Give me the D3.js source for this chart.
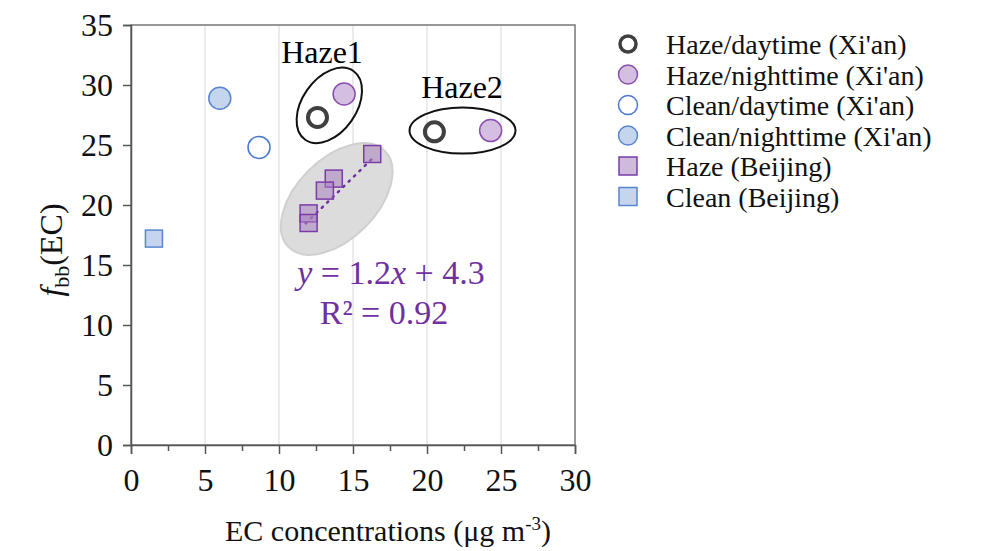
<!DOCTYPE html>
<html><head><meta charset="utf-8">
<script src="https://cdn.jsdelivr.net/npm/d3@7"></script>
<style>body{margin:0;background:#fff}text{font-family:"Liberation Serif","Times New Roman",serif}</style>
</head><body><svg width="999" height="551"></svg>
<script>
// data
const hazeDayXian = [[12.6, 27.3], [20.5, 26.1]];
const hazeNightXian = [[14.4, 29.25], [24.3, 26.2]];
const cleanDayXian = [[8.65, 24.8]];
const cleanNightXian = [[6.0, 28.9]];
const hazeBeijing = [[16.3, 24.25], [13.7, 22.2], [13.1, 21.2], [12.0, 19.3], [12.0, 18.5]];
const cleanBeijing = [[1.55, 17.2]];
const xTicks = [0, 5, 10, 15, 20, 25, 30];
const xMinor = [2.5, 7.5, 12.5, 17.5, 22.5, 27.5];
const yTicks = [0, 5, 10, 15, 20, 25, 30, 35];
const fit = {slope: 1.2, intercept: 4.3, from: 11.8, to: 16.5};

const svg = d3.select('svg');
const x = d3.scaleLinear().domain([0, 30]).range([131, 575]);
const y = d3.scaleLinear().domain([0, 35]).range([445, 25]);

// gridlines
svg.append('g').selectAll('line').data(xTicks.slice(1, -1)).join('line')
    .attr('x1', d => x(d)).attr('x2', d => x(d)).attr('y1', 25).attr('y2', 445)
    .attr('stroke', '#e0e0e0').attr('stroke-width', 1.3);
svg.append('rect').attr('x', 131).attr('y', 25).attr('width', 444).attr('height', 420)
    .attr('fill', 'none').attr('stroke', '#777').attr('stroke-width', 1.5);

svg.append('g').attr('transform', 'translate(0,445)')
    .call(d3.axisBottom(x).tickValues(xMinor).tickSize(6).tickFormat(''))
    .call(g => g.select('.domain').remove())
    .selectAll('line').attr('stroke', '#555').attr('stroke-width', 1.5);
const xAxis = svg.append('g').attr('transform', 'translate(0,445)')
    .call(d3.axisBottom(x).tickValues(xTicks).tickSize(9).tickPadding(14));
const yAxis = svg.append('g').attr('transform', 'translate(131,0)')
    .call(d3.axisLeft(y).tickValues(yTicks).tickSize(8).tickPadding(10));
[xAxis, yAxis].forEach(g => {
    g.attr('font-size', 32).attr('font-family', '"Liberation Serif",serif');
    g.select('.domain').attr('stroke', '#555').attr('stroke-width', 1.5);
    g.selectAll('.tick line').attr('stroke', '#555').attr('stroke-width', 1.5);
    g.selectAll('text').attr('fill', '#111');
});

// annotation ellipses
function ellipse(cx, cy, rx, ry, rot, fill, stroke) {
    svg.append('ellipse').attr('cx', x(cx)).attr('cy', y(cy)).attr('rx', rx).attr('ry', ry)
        .attr('transform', `rotate(${rot},${x(cx)},${y(cy)})`)
        .attr('fill', fill).attr('stroke', stroke).attr('stroke-width', 2);
}
ellipse(13.9, 20.5, 68, 40, -45, '#dcdcdc', '#d0d0d0');
ellipse(13.4, 28.3, 42, 27, -55, 'none', '#111');
ellipse(22.4, 26.2, 53, 23, 0, 'none', '#111');

// fit line
svg.append('line')
    .attr('x1', x(fit.from)).attr('y1', y(fit.slope * fit.from + fit.intercept))
    .attr('x2', x(fit.to)).attr('y2', y(fit.slope * fit.to + fit.intercept))
    .attr('stroke', '#7030a0').attr('stroke-width', 2.5).attr('stroke-dasharray', '1.5,6')
    .attr('stroke-linecap', 'round');

const styles = {
    hazeDay: {fill: 'none', stroke: '#404040', sw: 4},
    hazeNight: {fill: '#d5bfe0', stroke: '#8a4fb0', sw: 1.5},
    cleanDay: {fill: '#fff', stroke: '#4a78d0', sw: 1.5},
    cleanNight: {fill: '#c6d5ee', stroke: '#5a86d0', sw: 1.5},
    hazeBj: {fill: 'rgba(170,130,190,0.55)', stroke: '#7a3da8', sw: 1.5},
    cleanBj: {fill: '#c6d5ee', stroke: '#5a86d0', sw: 1.5}
};
function circles(data, s, r) {
    svg.append('g').selectAll('circle').data(data).join('circle')
        .attr('cx', d => x(d[0])).attr('cy', d => y(d[1])).attr('r', r)
        .attr('fill', s.fill).attr('stroke', s.stroke).attr('stroke-width', s.sw);
}
function squares(data, s, a) {
    svg.append('g').selectAll('rect').data(data).join('rect')
        .attr('x', d => x(d[0]) - a / 2).attr('y', d => y(d[1]) - a / 2)
        .attr('width', a).attr('height', a)
        .attr('fill', s.fill).attr('stroke', s.stroke).attr('stroke-width', s.sw);
}
circles(hazeDayXian, styles.hazeDay, 9.5);
circles(hazeNightXian, styles.hazeNight, 11);
circles(cleanDayXian, styles.cleanDay, 11);
circles(cleanNightXian, styles.cleanNight, 11);
squares(hazeBeijing, styles.hazeBj, 17);
squares(cleanBeijing, styles.cleanBj, 17);

// labels
svg.append('text').attr('x', 322).attr('y', 63).attr('text-anchor', 'middle')
    .attr('font-size', 32).text('Haze1');
svg.append('text').attr('x', 462).attr('y', 98).attr('text-anchor', 'middle')
    .attr('font-size', 32).text('Haze2');
const eq = svg.append('text').attr('x', 391).attr('y', 284).attr('text-anchor', 'middle')
    .attr('font-size', 34).attr('fill', '#7030a0');
eq.append('tspan').attr('font-style', 'italic').text('y');
eq.append('tspan').text(' = 1.2');
eq.append('tspan').attr('font-style', 'italic').text('x');
eq.append('tspan').text(' + 4.3');
svg.append('text').attr('x', 384).attr('y', 324).attr('text-anchor', 'middle')
    .attr('font-size', 34).attr('fill', '#7030a0').text('R² = 0.92');

const xl = svg.append('text').attr('x', 388).attr('y', 541).attr('text-anchor', 'middle')
    .attr('font-size', 30).attr('fill', '#111');
xl.append('tspan').text('EC concentrations (μg m');
xl.append('tspan').attr('dy', -11).attr('font-size', 19).text('-3');
xl.append('tspan').attr('dy', 11).text(')');
const yl = svg.append('text').attr('transform', 'translate(62,250) rotate(-90)')
    .attr('text-anchor', 'middle').attr('font-size', 32).attr('fill', '#111');
yl.append('tspan').attr('font-style', 'italic').text('f');
yl.append('tspan').attr('dy', 7).attr('font-size', 22).text('bb');
yl.append('tspan').attr('dy', -7).text('(EC)');

// legend
const legend = [
    {label: "Haze/daytime (Xi'an)", s: styles.hazeDay, shape: 'c', r: 8},
    {label: "Haze/nighttime (Xi'an)", s: styles.hazeNight, shape: 'c', r: 9.5},
    {label: "Clean/daytime (Xi'an)", s: styles.cleanDay, shape: 'c', r: 9.5},
    {label: "Clean/nighttime (Xi'an)", s: styles.cleanNight, shape: 'c', r: 9.5},
    {label: 'Haze (Beijing)', s: styles.hazeBj, shape: 's'},
    {label: 'Clean (Beijing)', s: styles.cleanBj, shape: 's'}
];
const lg = svg.append('g').selectAll('g').data(legend).join('g')
    .attr('transform', (d, i) => `translate(628,${44 + i * 30.5})`);
lg.each(function (d) {
    const g = d3.select(this);
    if (d.shape === 'c') {
        g.append('circle').attr('r', d.r).attr('fill', d.s.fill).attr('stroke', d.s.stroke)
            .attr('stroke-width', d.s.sw === 4 ? 3.5 : 1.5);
    } else {
        g.append('rect').attr('x', -9).attr('y', -9).attr('width', 18).attr('height', 18)
            .attr('fill', d.s.fill).attr('stroke', d.s.stroke).attr('stroke-width', 1.5);
    }
    g.append('text').attr('x', 38).attr('y', 10).attr('font-size', 28).attr('fill', '#111').text(d.label);
});
</script></body></html>
